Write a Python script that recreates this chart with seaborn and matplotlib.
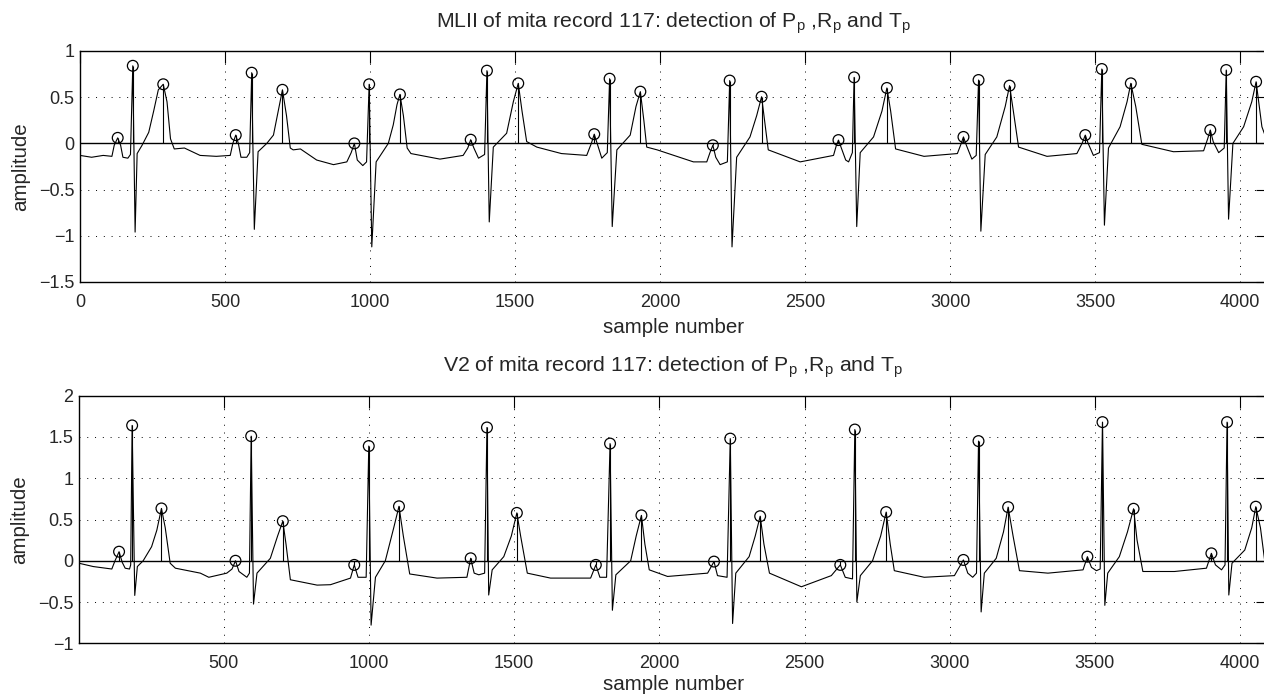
import matplotlib
matplotlib.use("Agg")
import matplotlib.pyplot as plt
import seaborn as sns
import pandas as pd

# ---------------- data ----------------
# MLII trace vertices (sample number, amplitude)
mlii_x = [0, 40, 80, 110, 118, 130, 140, 148, 165, 174, 182, 190, 197, 214, 237, 254, 270, 287, 300, 312,
          325, 360, 414, 470, 518, 527, 537, 546, 555, 575, 585, 592, 601, 614, 644, 667, 684, 698, 712, 725,
          735, 760, 816, 874, 920, 935, 946, 956, 975, 988, 997, 1006, 1021, 1063, 1080, 1093, 1103, 1115, 1128, 1141,
          1241, 1321, 1337, 1347, 1358, 1374, 1395, 1403, 1411, 1425, 1471, 1494, 1511, 1524, 1540, 1575, 1660, 1747, 1763, 1773,
          1783, 1799, 1818, 1826, 1835, 1851, 1897, 1917, 1932, 1944, 1954, 1990, 2115, 2161, 2172, 2182, 2192, 2207, 2232, 2240,
          2248, 2264, 2310, 2333, 2350, 2362, 2373, 2483, 2598, 2607, 2615, 2625, 2640, 2650, 2663, 2669, 2678, 2690, 2736, 2765,
          2782, 2795, 2812, 2910, 3025, 3036, 3046, 3056, 3075, 3090, 3098, 3106, 3121, 3161, 3190, 3205, 3218, 3236, 3334, 3437,
          3455, 3466, 3476, 3494, 3515, 3523, 3532, 3546, 3586, 3610, 3623, 3640, 3661, 3770, 3874, 3888, 3897, 3907, 3926, 3945,
          3952, 3960, 3975, 4012, 4040, 4055, 4075, 4096]
mlii_y = [-0.13, -0.15, -0.13, -0.14, -0.02, 0.06, -0.02, -0.15, -0.16, -0.12, 0.84, -0.96, -0.11, -0.02, 0.12, 0.35, 0.58, 0.64, 0.45, 0.05,
          -0.06, -0.05, -0.13, -0.14, -0.13, 0.0, 0.09, 0.0, -0.15, -0.15, -0.10, 0.765, -0.93, -0.09, 0.0, 0.09, 0.36, 0.58, 0.30, -0.05,
          -0.07, -0.06, -0.18, -0.23, -0.20, -0.10, 0.0, -0.18, -0.24, -0.20, 0.64, -1.12, -0.20, 0.0, 0.20, 0.42, 0.53, 0.30, -0.05, -0.11,
          -0.17, -0.13, -0.05, 0.04, -0.05, -0.16, -0.12, 0.787, -0.85, -0.04, 0.11, 0.45, 0.65, 0.35, 0.02, -0.04, -0.11, -0.13, 0.0, 0.10,
          0.0, -0.16, -0.10, 0.70, -0.90, -0.07, 0.09, 0.40, 0.56, 0.25, -0.04, -0.07, -0.20, -0.20, -0.10, -0.02, -0.15, -0.23, -0.20, 0.68,
          -1.12, -0.15, 0.07, 0.30, 0.505, 0.20, -0.07, -0.20, -0.13, -0.03, 0.036, -0.05, -0.18, -0.20, -0.10, 0.715, -0.90, -0.10, 0.07, 0.35,
          0.60, 0.35, -0.06, -0.14, -0.11, -0.02, 0.07, -0.02, -0.17, -0.13, 0.686, -0.95, -0.12, 0.07, 0.40, 0.625, 0.35, -0.04, -0.14, -0.11,
          0.0, 0.09, 0.0, -0.13, -0.10, 0.805, -0.885, -0.05, 0.18, 0.45, 0.65, 0.40, -0.01, -0.09, -0.08, 0.05, 0.145, 0.02, -0.10, -0.05,
          0.794, -0.82, 0.0, 0.18, 0.45, 0.667, 0.18, 0.0]
# detected P, R, T peaks on MLII
mlii_peak_x = [130, 182, 287, 537, 592, 698, 946, 997, 1103, 1347, 1403, 1511, 1773, 1826, 1932,
               2182, 2240, 2350, 2615, 2669, 2782, 3046, 3098, 3205, 3466, 3523, 3623, 3897, 3952, 4055]
mlii_peak_y = [0.06, 0.84, 0.64, 0.09, 0.765, 0.58, 0.0, 0.64, 0.53, 0.04, 0.787, 0.65, 0.10, 0.70, 0.56,
               -0.02, 0.68, 0.505, 0.036, 0.715, 0.60, 0.07, 0.686, 0.625, 0.09, 0.805, 0.65, 0.145, 0.794, 0.667]

# V2 trace vertices
v2_x = [1, 50, 114, 125, 139, 150, 160, 175, 179, 184, 193, 202, 222, 251, 269, 285, 298, 315, 333, 419,
        448, 510, 528, 540, 552, 579, 588, 594, 602, 614, 660, 685, 703, 714, 729, 821, 867, 936, 949, 962,
        990, 999, 1007, 1022, 1056, 1085, 1103, 1118, 1140, 1234, 1337, 1350, 1362, 1378, 1398, 1406, 1412, 1424, 1464, 1490,
        1509, 1522, 1545, 1625, 1763, 1781, 1795, 1818, 1830, 1838, 1850, 1901, 1920, 1938, 1950, 1965, 2028, 2166, 2188, 2200,
        2233, 2244, 2252, 2263, 2309, 2330, 2347, 2360, 2379, 2489, 2592, 2623, 2640, 2665, 2673, 2680, 2692, 2734, 2762, 2781,
        2795, 2809, 2912, 3016, 3047, 3062, 3079, 3092, 3099, 3108, 3119, 3160, 3185, 3201, 3218, 3240, 3338, 3459, 3474, 3488,
        3505, 3518, 3526, 3534, 3544, 3584, 3612, 3633, 3645, 3665, 3774, 3884, 3901, 3915, 3936, 3948, 3955, 3961, 3972, 4016,
        4040, 4054, 4070, 4085, 4096]
v2_y = [-0.03, -0.07, -0.10, 0.0, 0.11, -0.02, -0.09, -0.10, -0.05, 1.64, -0.42, -0.07, 0.0, 0.17, 0.37, 0.634, 0.40, -0.03, -0.09, -0.15,
        -0.20, -0.15, -0.10, 0.0, -0.13, -0.20, -0.15, 1.51, -0.525, -0.15, 0.03, 0.30, 0.48, 0.20, -0.23, -0.295, -0.29, -0.21, -0.05, -0.20,
        -0.20, 1.39, -0.78, -0.20, 0.0, 0.40, 0.66, 0.30, -0.16, -0.21, -0.20, 0.03, -0.15, -0.17, -0.15, 1.615, -0.415, -0.11, 0.05, 0.30,
        0.58, 0.30, -0.15, -0.21, -0.21, -0.05, -0.20, -0.20, 1.42, -0.60, -0.17, 0.0, 0.30, 0.55, 0.20, -0.11, -0.19, -0.15, -0.01, -0.18,
        -0.20, 1.48, -0.76, -0.15, 0.05, 0.30, 0.54, 0.20, -0.15, -0.315, -0.18, -0.05, -0.20, -0.22, 1.59, -0.50, -0.18, 0.0, 0.30, 0.59,
        0.20, -0.12, -0.20, -0.18, 0.01, -0.15, -0.20, -0.15, 1.45, -0.62, -0.15, 0.03, 0.35, 0.65, 0.30, -0.12, -0.15, -0.11, 0.05, -0.08,
        -0.12, -0.10, 1.68, -0.54, -0.15, 0.05, 0.35, 0.63, 0.25, -0.13, -0.13, -0.09, 0.09, -0.05, -0.11, -0.05, 1.68, -0.415, -0.03, 0.13,
        0.40, 0.655, 0.40, -0.01, -0.05]
v2_peak_x = [139, 184, 285, 540, 594, 703, 949, 999, 1103, 1350, 1406, 1509, 1781, 1830, 1938,
             2188, 2244, 2347, 2623, 2673, 2781, 3047, 3099, 3201, 3474, 3526, 3633, 3901, 3955, 4054]
v2_peak_y = [0.11, 1.64, 0.634, 0.0, 1.51, 0.48, -0.05, 1.39, 0.66, 0.03, 1.615, 0.58, -0.05, 1.42, 0.55,
             -0.01, 1.48, 0.54, -0.05, 1.59, 0.59, 0.01, 1.45, 0.65, 0.05, 1.68, 0.63, 0.09, 1.68, 0.655]

titles = ["MLII of mita record 117: detection of P$_\\mathregular{p}$ ,R$_\\mathregular{p}$ and T$_\\mathregular{p}$",
          "V2 of mita record 117: detection of P$_\\mathregular{p}$ ,R$_\\mathregular{p}$ and T$_\\mathregular{p}$"]
x_label = "sample number"
y_label = "amplitude"
top_yticks = [-1.5, -1, -0.5, 0, 0.5, 1]
bot_yticks = [-1, -0.5, 0, 0.5, 1, 1.5, 2]
top_xticks = [0, 500, 1000, 1500, 2000, 2500, 3000, 3500, 4000]
bot_xticks = [500, 1000, 1500, 2000, 2500, 3000, 3500, 4000]

# ---------------- style ----------------
sns.set_style("white")
plt.rcParams["font.family"] = ["Liberation Sans", "DejaVu Sans"]
plt.rcParams["mathtext.fontset"] = "custom"
plt.rcParams["mathtext.rm"] = "Liberation Sans"
plt.rcParams["mathtext.it"] = "Liberation Sans"
plt.rcParams["mathtext.bf"] = "Liberation Sans"

fig = plt.figure(figsize=(12.64, 6.95), dpi=100)
W, H = 1264.0, 695.0
ax1 = fig.add_axes([80 / W, 1 - 282 / H, 1188 / W, (282 - 51) / H])
ax2 = fig.add_axes([79 / W, 1 - 643.3 / H, 1189 / W, (643.3 - 395.7) / H])


def draw(ax, tx, ty, px, py, xlim, ylim, xticks, yticks, title, xpad):
    df = pd.DataFrame({"x": tx, "y": ty})
    sns.lineplot(data=df, x="x", y="y", ax=ax, color="black", lw=0.8,
                 estimator=None, sort=False, zorder=3)
    ax.axhline(0, color="black", lw=1.0, zorder=2)
    ax.vlines(px, 0, py, color="black", lw=0.8, zorder=2)
    pk = pd.DataFrame({"x": px, "y": py})
    sns.scatterplot(data=pk, x="x", y="y", ax=ax, marker="o", s=60,
                    facecolors="none", edgecolors="black", linewidths=0.9, zorder=4)
    ax.set_xlim(*xlim)
    ax.set_ylim(*ylim)
    ax.set_xticks(xticks)
    ax.set_yticks(yticks)
    ax.set_xticklabels([f"{t:g}" for t in xticks])
    ax.set_yticklabels([f"{t:g}".replace("-", "\u2212") for t in yticks])
    ax.grid(True, color="black", lw=0.7, linestyle=(0, (1, 7)))
    ax.tick_params(direction="in", length=8.5, width=0.8, top=True, right=True,
                   labelsize=13, color="black")
    ax.tick_params(axis="x", pad=8.5)
    ax.tick_params(axis="y", pad=4)
    for s in ax.spines.values():
        s.set_visible(True)
        s.set_color("black")
        s.set_linewidth(1.0)
    ax.set_xlabel(x_label, fontsize=14.8, labelpad=xpad)
    ax.set_ylabel(y_label, fontsize=14.8, labelpad=6)
    ax.set_title(title, fontsize=15.3, pad=17)
    ax.set_axisbelow(False)


draw(ax1, mlii_x, mlii_y, mlii_peak_x, mlii_peak_y, (0, 4096), (-1.5, 1),
     top_xticks, top_yticks, titles[0], 5)
draw(ax2, v2_x, v2_y, v2_peak_x, v2_peak_y, (1, 4096), (-1, 2),
     bot_xticks, bot_yticks, titles[1], 2)

fig.savefig("out.png", dpi=100)
